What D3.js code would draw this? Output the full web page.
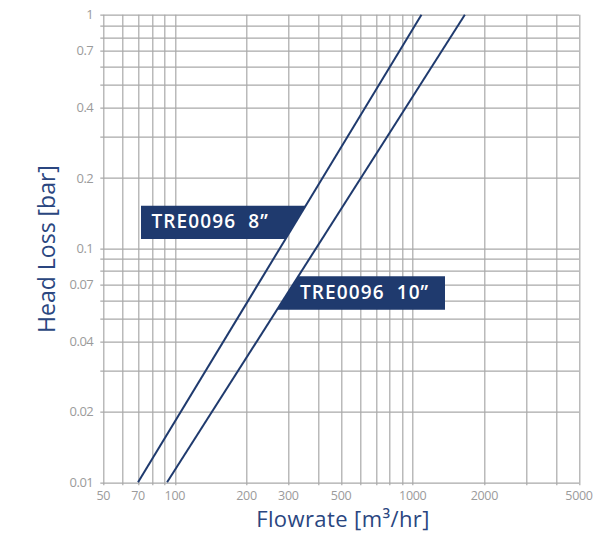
<!DOCTYPE html>
<html>
<head>
<meta charset="utf-8">
<script src="https://cdn.jsdelivr.net/npm/d3@7"></script>
<style>
  body { margin: 0; background: #fff; }
  svg { display: block; font-family: "Open Sans", sans-serif; }
</style>
</head>
<body>
<div id="chart"></div>
<script>
// tick labels
const xTickLabels = [50, 70, 100, 200, 300, 500, 1000, 2000, 5000];
const yTickLabels = [1, 0.7, 0.4, 0.2, 0.1, 0.07, 0.04, 0.02, 0.01];

// series (flowrate m3/hr vs head loss bar)
const flow8 = [70, 1088];
const head8 = [0.01, 1];
const flow10 = [92.7, 1656];
const head10 = [0.01, 1];

const seriesNames = ["TRE0096  8\u201d", "TRE0096  10\u201d"];

let margin = {top: 14.7, right: 34, bottom: 53.7, left: 103.3},
    W = 613, H = 536,
    width = W - margin.left - margin.right,
    height = H - margin.top - margin.bottom;

const navy = "#1f3a6e";
const grid = "#a9a9a9";

let x = d3.scaleLog().domain([50, 5000]).range([0, width]);
let y = d3.scaleLog().domain([0.01, 1]).range([height, 0]);

let svg = d3.select("#chart").append("svg")
  .attr("width", W)
  .attr("height", H)
  .append("g")
  .attr("transform", `translate(${margin.left},${margin.top})`);

// grid lines (extend a little past the axes like tick marks)
svg.append("g").selectAll("line")
  .data(y.ticks())
  .enter().append("line")
  .attr("x1", -3).attr("x2", width)
  .attr("y1", d => Math.round(y(d)) + 0.5)
  .attr("y2", d => Math.round(y(d)) + 0.5)
  .attr("stroke", grid).attr("stroke-width", 1.2);

svg.append("g").selectAll("line")
  .data(x.ticks())
  .enter().append("line")
  .attr("y1", 0).attr("y2", height + 3)
  .attr("x1", d => Math.round(x(d)) + 0.5)
  .attr("x2", d => Math.round(x(d)) + 0.5)
  .attr("stroke", grid).attr("stroke-width", 1.2);

// tick labels
svg.append("g").selectAll("text")
  .data(yTickLabels)
  .enter().append("text")
  .attr("x", -10)
  .attr("y", d => y(d))
  .attr("dy", "0.35em")
  .attr("text-anchor", "end")
  .attr("fill", "#9b9b9b")
  .style("font-size", "13px")
  .style("letter-spacing", "-0.5px")
  .text(d => d);

svg.append("g").selectAll("text")
  .data(xTickLabels)
  .enter().append("text")
  .attr("x", d => x(d))
  .attr("y", height + 17.8)
  .attr("text-anchor", "middle")
  .attr("fill", "#9b9b9b")
  .style("font-size", "12.5px")
  .style("letter-spacing", "-0.3px")
  .text(d => d);

// axis titles
svg.append("text")
  .attr("transform", `translate(${55 - margin.left},${249 - margin.top}) rotate(-90)`)
  .attr("text-anchor", "middle")
  .attr("fill", "#2a4680")
  .style("font-size", "23px")
  .text("Head Loss [bar]");

svg.append("text")
  .attr("x", 343 - margin.left)
  .attr("y", 527 - margin.top)
  .attr("text-anchor", "middle")
  .attr("fill", "#2a4680")
  .style("font-size", "22px")
  .style("letter-spacing", "0.4px")
  .text("Flowrate [m\u00b3/hr]");

// curves
let line = d3.line().x(d => x(d[0])).y(d => y(d[1]));
const series = [d3.zip(flow8, head8), d3.zip(flow10, head10)];

svg.selectAll(".curve")
  .data(series)
  .enter().append("path")
  .attr("class", "curve")
  .attr("d", line)
  .attr("fill", "none")
  .attr("stroke", navy)
  .attr("stroke-width", 2);

// x pixel of a series at a given pixel y
function xAt(s, py) {
  let p0 = [x(s[0][0]), y(s[0][1])], p1 = [x(s[1][0]), y(s[1][1])];
  return p0[0] + (py - p0[1]) * (p1[0] - p0[0]) / (p1[1] - p0[1]);
}

// label boxes, slanted edge runs along the curve
let t1 = 205.7 - margin.top, b1 = 239 - margin.top;
svg.append("polygon")
  .attr("points", [[141 - margin.left, t1], [xAt(series[0], t1), t1],
                   [xAt(series[0], b1), b1], [141 - margin.left, b1]].join(" "))
  .attr("fill", navy);

let t2 = 276.3 - margin.top, b2 = 309.7 - margin.top;
svg.append("polygon")
  .attr("points", [[xAt(series[1], t2), t2], [445 - margin.left, t2],
                   [445 - margin.left, b2], [xAt(series[1], b2), b2]].join(" "))
  .attr("fill", navy);

svg.append("text")
  .attr("x", 151.5 - margin.left).attr("y", 228.5 - margin.top)
  .attr("fill", "#fff")
  .style("font-size", "19px").style("font-weight", 600)
  .style("letter-spacing", "1.1px")
  .style("white-space", "pre")
  .text(seriesNames[0]);

svg.append("text")
  .attr("x", 300 - margin.left).attr("y", 299.5 - margin.top)
  .attr("fill", "#fff")
  .style("font-size", "19px").style("font-weight", 600)
  .style("letter-spacing", "1.1px")
  .style("white-space", "pre")
  .text(seriesNames[1]);
</script>
</body>
</html>
